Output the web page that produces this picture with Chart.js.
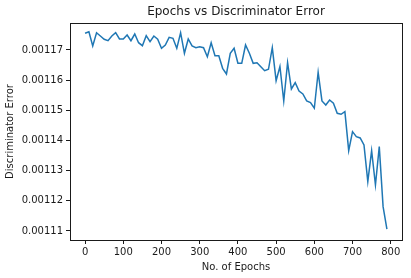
<!DOCTYPE html>
<html>
<head>
<meta charset="utf-8">
<script src="https://cdn.jsdelivr.net/npm/chart.js@4/dist/chart.umd.min.js"></script>
<style>
  html, body { margin: 0; padding: 0; background: #fff; }
  #wrap { width: 411px; height: 278px; }
</style>
</head>
<body>
<div id="wrap"><canvas id="chart" width="411" height="278"></canvas></div>
<script>
// epochs on the x axis
const epochs = [
  0, 10, 20, 30, 40, 50, 60, 70, 80, 90,
  100, 110, 120, 130, 140, 150, 160, 170, 180, 190,
  200, 210, 220, 230, 240, 250, 260, 270, 280, 290,
  300, 310, 320, 330, 340, 350, 360, 370, 380, 390,
  400, 410, 420, 430, 440, 450, 460, 470, 480, 490,
  500, 510, 520, 530, 540, 550, 560, 570, 580, 590,
  600, 610, 620, 630, 640, 650, 660, 670, 680, 690,
  700, 710, 720, 730, 740, 750, 760, 770, 780, 790
];

// discriminator error
const discError = [
  0.00117553, 0.00117607, 0.00117133, 0.00117573, 0.00117464, 0.00117355, 0.00117308, 0.00117464, 0.00117573, 0.00117365,
  0.00117365, 0.00117497, 0.00117308, 0.00117530, 0.00117242, 0.00117143, 0.00117474, 0.00117275, 0.00117464, 0.00117355,
  0.00117056, 0.00117166, 0.00117421, 0.00117388, 0.00117056, 0.00117573, 0.00116891, 0.00117365, 0.00117133, 0.00117076,
  0.00117109, 0.00117076, 0.00116778, 0.00117242, 0.00116811, 0.00116811, 0.00116393, 0.00116205, 0.00116891, 0.00117056,
  0.00116559, 0.00116559, 0.00117166, 0.00116891, 0.00116559, 0.00116579, 0.00116446, 0.00116314, 0.00116360, 0.00117076,
  0.00115982, 0.00116453, 0.00115310, 0.00116579, 0.00115707, 0.00115916, 0.00115641, 0.00115542, 0.00115310, 0.00115253,
  0.00115068, 0.00116261, 0.00115310, 0.00115177, 0.00115343, 0.00115233, 0.00114902, 0.00114869, 0.00114955, 0.00113662,
  0.00114292, 0.00114126, 0.00114083, 0.00113851, 0.00112635, 0.00113662, 0.00112525, 0.00113795, 0.00111806, 0.00111057
];

const xTicks = [0, 100, 200, 300, 400, 500, 600, 700, 800];
const yTicks = [0.00111, 0.00112, 0.00113, 0.00114, 0.00115, 0.00116, 0.00117];

const FONT = "'DejaVu Sans', sans-serif";
const INK = "#1a1a1a";

// matplotlib-style box around the plot
const frame = {
  id: "frame",
  afterDraw(chart) {
    const a = chart.chartArea;
    const ctx = chart.ctx;
    ctx.save();
    ctx.strokeStyle = INK;
    ctx.lineWidth = 1;
    ctx.strokeRect(Math.round(a.left) + 0.5, Math.round(a.top) + 0.5,
      Math.round(a.right - a.left), Math.round(a.bottom - a.top));
    ctx.restore();
  },
};

const ctx = document.getElementById("chart").getContext("2d");
window.discChart = new Chart(ctx, {
  type: "line",
  data: {
    datasets: [
      {
        label: "Discriminator Error",
        data: epochs.map((e, i) => ({ x: e, y: discError[i] })),
        borderColor: "#1f77b4",
        borderWidth: 1.5,
        pointRadius: 0,
        tension: 0,
        fill: false,
      },
    ],
  },
  options: {
    responsive: false,
    animation: false,
    devicePixelRatio: 1,
    layout: { padding: { left: 0, right: 9, top: 0, bottom: 0 } },
    plugins: {
      legend: { display: false },
      tooltip: { enabled: false },
      title: {
        display: true,
        text: "Epochs vs Discriminator Error",
        fullSize: false,
        color: INK,
        font: { family: FONT, size: 12, weight: "normal" },
        padding: { top: 5, bottom: 3.6 },
      },
    },
    scales: {
      x: {
        type: "linear",
        min: -39.5,
        max: 829.5,
        afterBuildTicks: (axis) => {
          axis.ticks = xTicks.map((v) => ({ value: v }));
        },
        afterFit: (axis) => {
          axis.height = 38;
        },
        grid: {
          drawOnChartArea: false,
          drawTicks: true,
          tickLength: 4,
          color: INK,
        },
        border: { display: false },
        ticks: {
          color: INK,
          padding: 2,
          maxRotation: 0,
          font: { family: FONT, size: 10 },
        },
        title: {
          display: true,
          text: "No. of Epochs",
          color: INK,
          font: { family: FONT, size: 10 },
          padding: { top: 5, bottom: 5 },
        },
      },
      y: {
        min: 0.001107,
        max: 0.00117895,
        afterBuildTicks: (axis) => {
          axis.ticks = yTicks.map((v) => ({ value: v }));
        },
        afterFit: (axis) => {
          axis.width = 70;
        },
        grid: {
          drawOnChartArea: false,
          drawTicks: true,
          tickLength: 4,
          color: INK,
        },
        border: { display: false },
        ticks: {
          color: INK,
          padding: 3,
          font: { family: FONT, size: 10 },
          callback: (v) => v.toFixed(5),
        },
        title: {
          display: true,
          text: "Discriminator Error",
          color: INK,
          font: { family: FONT, size: 10 },
          padding: { top: 4, bottom: 4 },
        },
      },
    },
  },
  plugins: [frame],
});
</script>
</body>
</html>
